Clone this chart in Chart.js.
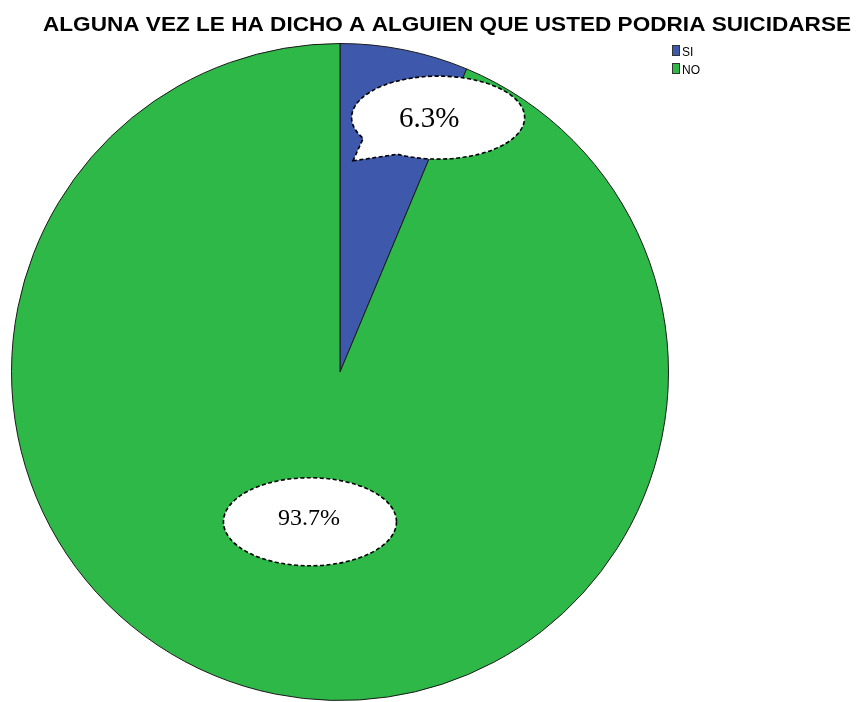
<!DOCTYPE html>
<html>
<head>
<meta charset="utf-8">
<script src="https://cdn.jsdelivr.net/npm/chart.js@4.4.1/dist/chart.umd.min.js"></script>
<style>
    html, body { margin: 0; padding: 0; background: #fff; }
    #chartSuicidio { display: block; }
</style>
</head>
<body>
<canvas id="chartSuicidio" width="859" height="702"></canvas>
<script>
// Datos de la pregunta
const titulo = 'ALGUNA VEZ LE HA DICHO A ALGUIEN QUE USTED PODRIA SUICIDARSE';
const respuestas = ['SI', 'NO'];
const porcentajes = [6.3, 93.7];
const colores = ['#3E58AC', '#2EB848'];

// Estilo de las etiquetas tipo globo (posicion relativa al sector)
const estiloEtiquetas = [
    { at: 0.93, r: 0.83, rx: 86.5, ry: 41.5, size: 29, tdx: -9, tdy: 0, tail: { at: 0.155, r: 0.644, a1: 118, a2: 150 } },
    { at: 0.5, r: 0.465, rx: 86.5, ry: 44, size: 24, tdx: -1, tdy: -5 }
];

const rad = d => d * Math.PI / 180;

const pluginEtiquetas = {
    id: 'etiquetasSpss',
    afterDraw(chart) {
        const ctx = chart.ctx;
        const meta = chart.getDatasetMeta(0);

        // Titulo (comprimido a lo ancho, como en SPSS)
        ctx.save();
        ctx.fillStyle = '#000';
        ctx.font = 'bold 19.5px "Liberation Sans", Arial, sans-serif';
        ctx.textBaseline = 'alphabetic';
        const w = ctx.measureText(titulo).width;
        ctx.translate(43, 31);
        ctx.scale(808 / w, 1);
        ctx.fillText(titulo, 0, 0);
        ctx.restore();

        // Leyenda
        ctx.save();
        ctx.font = '12px "Liberation Sans", Arial, sans-serif';
        ctx.textBaseline = 'alphabetic';
        respuestas.forEach((r, i) => {
            const y = 45 + i * 18;
            ctx.fillStyle = colores[i];
            ctx.fillRect(672, y, 8, 11);
            ctx.strokeStyle = '#333';
            ctx.lineWidth = 1;
            ctx.strokeRect(672.5, y + 0.5, 7, 10);
            ctx.fillStyle = '#000';
            ctx.fillText(r, 682, y + 10.5);
        });
        ctx.restore();

        // Globos con el porcentaje
        meta.data.forEach((arc, i) => {
            const p = arc.getProps(['x', 'y', 'startAngle', 'endAngle', 'outerRadius'], true);
            const st = estiloEtiquetas[i];
            const ang = p.startAngle + (p.endAngle - p.startAngle) * st.at;
            const cx = p.x + Math.cos(ang) * p.outerRadius * st.r;
            const cy = p.y + Math.sin(ang) * p.outerRadius * st.r;

            ctx.save();
            ctx.beginPath();
            if (st.tail) {
                const ta = p.startAngle + (p.endAngle - p.startAngle) * st.tail.at;
                const tx = p.x + Math.cos(ta) * p.outerRadius * st.tail.r;
                const ty = p.y + Math.sin(ta) * p.outerRadius * st.tail.r;
                ctx.moveTo(tx, ty);
                ctx.ellipse(cx, cy, st.rx, st.ry, 0, rad(st.tail.a1), rad(st.tail.a2), true);
                ctx.closePath();
            } else {
                ctx.ellipse(cx, cy, st.rx, st.ry, 0, 0, Math.PI * 2);
            }
            ctx.fillStyle = '#fff';
            ctx.fill();
            ctx.setLineDash([4, 2.5]);
            ctx.lineWidth = 1.6;
            ctx.strokeStyle = '#000';
            ctx.stroke();

            ctx.setLineDash([]);
            ctx.fillStyle = '#000';
            ctx.font = st.size + 'px "Liberation Serif", "Times New Roman", serif';
            ctx.textAlign = 'center';
            ctx.textBaseline = 'alphabetic';
            ctx.fillText(porcentajes[i].toFixed(1) + '%', cx + st.tdx, cy + st.tdy + st.size * 0.34);
            ctx.restore();
        });
    }
};

new Chart(document.getElementById('chartSuicidio'), {
    type: 'pie',
    data: {
        labels: respuestas,
        datasets: [{
            data: porcentajes,
            backgroundColor: colores,
            borderColor: '#1a1a1a',
            borderWidth: 1
        }]
    },
    options: {
        responsive: false,
        animation: false,
        layout: { padding: { left: 11, right: 190, top: 43, bottom: 1 } },
        plugins: {
            legend: { display: false },
            title: { display: false },
            tooltip: { enabled: false }
        }
    },
    plugins: [pluginEtiquetas]
});
</script>
</body>
</html>
